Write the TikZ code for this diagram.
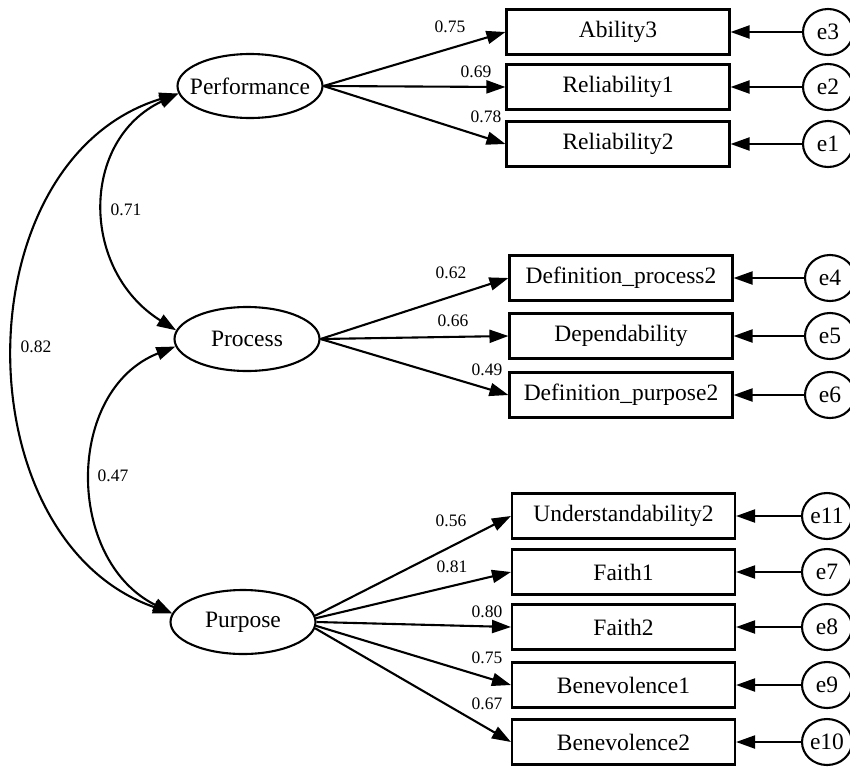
\documentclass[tikz,border=0pt]{standalone}
\usepackage{fontspec}
\setmainfont{Liberation Serif}
\usetikzlibrary{arrows.meta,shapes.geometric}
\begin{document}
\begin{tikzpicture}[x=1pt,y=-1pt,
  lat/.style={ellipse,draw,line width=2.1pt,minimum width=145pt,minimum height=64pt,inner sep=0pt,font=\fontsize{23.5}{28}\selectfont},
  obs/.style={rectangle,draw,line width=2.1pt,minimum width=223pt,minimum height=45pt,inner sep=0pt,font=\fontsize{23.5}{28}\selectfont},
  err/.style={ellipse,draw,line width=2.1pt,minimum width=50pt,minimum height=46pt,inner sep=0pt,font=\fontsize{23.5}{28}\selectfont},
  arr/.style={line width=2.1pt,-{Triangle[length=19pt,width=13pt]}},
  cov/.style={line width=2.1pt,{Triangle[length=19pt,width=13pt]}-{Triangle[length=19pt,width=13pt]}},
  lbl/.style={font=\fontsize{17.5}{20}\selectfont,inner sep=0pt}
]
\useasboundingbox (0,0) rectangle (850,766);
\clip (0,0) rectangle (850,766);

% latent variables
\node[lat] (perf) at (250,86) {\makebox[0pt]{Performance}};
\node[lat] (proc) at (247,339) {\makebox[0pt]{Process}};
\node[lat] (purp) at (243,622) {\makebox[0pt]{Purpose}};

% observed variables
\node[obs] (ab3) at (618,32) {Ability3};
\node[obs] (rel1) at (618,87) {Reliability1};
\node[obs] (rel2) at (618,144) {Reliability2};
\node[obs] (dp2) at (621,278) {Definition\_process2};
\node[obs] (dep) at (621,336) {Dependability};
\node[obs] (dpu2) at (621,395) {Definition\_purpose2};
\node[obs] (und2) at (623.5,516) {Understandability2};
\node[obs] (f1) at (623.5,572) {Faith1};
\node[obs] (f2) at (623.5,627) {Faith2};
\node[obs] (ben1) at (623.5,685) {Benevolence1};
\node[obs] (ben2) at (623.5,742) {Benevolence2};

% error terms
\node[err] (e3) at (828,32) {\makebox[0pt]{e3}};
\node[err] (e2) at (828,87) {\makebox[0pt]{e2}};
\node[err] (e1) at (828,144) {\makebox[0pt]{e1}};
\node[err] (e4) at (830,278) {\makebox[0pt]{e4}};
\node[err] (e5) at (830,336) {\makebox[0pt]{e5}};
\node[err] (e6) at (830,395) {\makebox[0pt]{e6}};
\node[err] (e11) at (827,516) {\makebox[0pt]{e11}};
\node[err] (e7) at (827,572) {\makebox[0pt]{e7}};
\node[err] (e8) at (827,627) {\makebox[0pt]{e8}};
\node[err] (e9) at (827,685) {\makebox[0pt]{e9}};
\node[err] (e10) at (827,742) {\makebox[0pt]{e10}};

% loadings
\draw[arr] (perf.east) -- (ab3.west);
\draw[arr] (perf.east) -- (rel1.west);
\draw[arr] (perf.east) -- (rel2.west);
\draw[arr] (proc.east) -- (dp2.west);
\draw[arr] (proc.east) -- (dep.west);
\draw[arr] (proc.east) -- (dpu2.west);
\draw[arr] (purp.5) -- (und2.west);
\draw[arr] (purp.3) -- (f1.west);
\draw[arr] (purp.east) -- (f2.west);
\draw[arr] (purp.-3) -- (ben1.west);
\draw[arr] (purp.-5) -- (ben2.west);

% errors
\foreach \e/\o in {e3/ab3,e2/rel1,e1/rel2,e4/dp2,e5/dep,e6/dpu2,e11/und2,e7/f1,e8/f2,e9/ben1,e10/ben2}
  \draw[arr] (\e) -- (\o.east);

% covariances
\draw[cov] (perf.186) .. controls (80,140) and (80,270) .. (proc.173);
\draw[cov] (perf.186) .. controls (-39,160) and (-39,540) .. (purp.173);
\draw[cov] (proc.186) .. controls (65,390) and (65,560) .. (purp.173);

% labels
\node[lbl] (l1) at (450,27) {0.75};
\node[lbl] (l2) at (476,72) {0.69};
\node[lbl] (l3) at (486,117) {0.78};
\node[lbl] (l4) at (451,273) {0.62};
\node[lbl] (l5) at (453,321) {0.66};
\node[lbl] (l6) at (487,370) {0.49};
\node[lbl] (l7) at (451,521) {0.56};
\node[lbl] (l8) at (452,567) {0.81};
\node[lbl] (l9) at (487,612) {0.80};
\node[lbl] (l10) at (487,658) {0.75};
\node[lbl] (l11) at (487,704) {0.67};
\node[lbl] (c1) at (126,210) {0.71};
\node[lbl] (c2) at (36,347) {0.82};
\node[lbl] (c3) at (113,476) {0.47};
\end{tikzpicture}
\end{document}
